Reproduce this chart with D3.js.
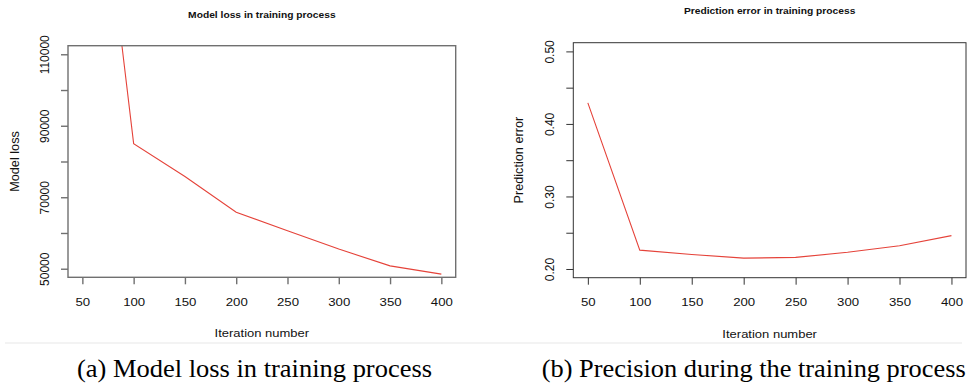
<!DOCTYPE html>
<html>
<head>
<meta charset="utf-8">
<script src="https://cdn.jsdelivr.net/npm/d3@7"></script>
<style>
  html, body { margin: 0; padding: 0; background: #fff; }
  svg { display: block; }
  .sans { font-family: "Liberation Sans", Arial, Helvetica, sans-serif; }
  .serif { font-family: "Liberation Serif", "Times New Roman", Times, serif; }
</style>
</head>
<body>
<svg id="fig" width="967" height="383"></svg>
<script>
// Iterations shared by both panels
const iterations = [50, 100, 150, 200, 250, 300, 350, 400];
const xTicks = [50, 100, 150, 200, 250, 300, 350, 400];

// (a) model loss per iteration
const lossValues = [205000, 85000, 75800, 65800, 60600, 55500, 50800, 48500];
const lossTicks = [50000, 60000, 70000, 80000, 90000, 100000, 110000];
const lossTickLabels = [50000, 70000, 90000, 110000];

// (b) prediction error per iteration
const errorValues = [0.429, 0.226, 0.220, 0.215, 0.216, 0.223, 0.232, 0.246];
const errorTicks = [0.20, 0.25, 0.30, 0.35, 0.40, 0.45, 0.50];
const errorTickLabels = [0.20, 0.30, 0.40, 0.50];

const svg = d3.select("#fig");
const STRETCH = 1.14;   // horizontal stretch of the raster panels

// faint seam below the panels
svg.append("line").attr("x1", 5).attr("x2", 962).attr("y1", 343).attr("y2", 343)
  .attr("stroke", "#f3f3f3").attr("stroke-width", 2);

function panel(cfg) {
  const x = d3.scaleLinear().domain([36, 414]).range([cfg.left, cfg.right]);
  const pad = (cfg.ylim[1] - cfg.ylim[0]) * 0.04;
  const y = d3.scaleLinear().domain([cfg.ylim[0] - pad, cfg.ylim[1] + pad])
    .range([cfg.bottom, cfg.top]);
  const g = svg.append("g").attr("class", "sans");

  // title
  g.append("text")
    .attr("transform", `translate(${(cfg.left + cfg.right) / 2},${cfg.titleY}) scale(${STRETCH},1)`)
    .attr("text-anchor", "middle")
    .attr("font-weight", "bold").attr("font-size", 9).attr("fill", "#111")
    .text(cfg.title);

  // clipped data line
  const clipId = "clip-" + cfg.id;
  svg.append("clipPath").attr("id", clipId).append("rect")
    .attr("x", cfg.left).attr("y", cfg.top)
    .attr("width", cfg.right - cfg.left).attr("height", cfg.bottom - cfg.top);
  const line = d3.line().x((d, i) => x(iterations[i])).y(d => y(d));
  g.append("path").datum(cfg.values)
    .attr("clip-path", `url(#${clipId})`)
    .attr("d", line).attr("fill", "none")
    .attr("stroke", "#e5433a").attr("stroke-width", 1.1);

  // x axis
  const xa = g.append("g").attr("transform", `translate(0,${cfg.bottom})`)
    .call(d3.axisBottom(x).tickValues(xTicks).tickSize(7).tickSizeOuter(0).tickFormat(d3.format("d")));
  xa.attr("font-family", null);
  xa.select(".domain").remove();
  xa.selectAll("line").attr("stroke", cfg.axisColor).attr("stroke-width", cfg.axisWidth);
  xa.selectAll("text").attr("y", 28.5).attr("dy", 0)
    .attr("transform", `scale(${STRETCH},1)`)
    .attr("font-size", 11.6).attr("fill", "#111");

  // y axis with labels parallel to the axis
  const ya = g.append("g").attr("transform", `translate(${cfg.left},0)`)
    .call(d3.axisLeft(y).tickValues(cfg.yTicks).tickSize(7).tickSizeOuter(0)
      .tickFormat(d => cfg.yLabels.some(v => Math.abs(v - d) < 1e-9) ? cfg.fmt(d) : ""));
  ya.attr("font-family", null);
  ya.select(".domain").remove();
  ya.selectAll("line").attr("stroke", cfg.axisColor).attr("stroke-width", cfg.axisWidth);
  ya.selectAll("text").attr("x", 0).attr("y", 0).attr("dy", 0)
    .attr("text-anchor", "middle")
    .attr("transform", `translate(${-cfg.yLabelOff},0) rotate(-90)`)
    .attr("font-size", 12).attr("fill", "#111");

  // plot frame
  g.append("rect").attr("x", cfg.left).attr("y", cfg.top)
    .attr("width", cfg.right - cfg.left).attr("height", cfg.bottom - cfg.top)
    .attr("fill", "none").attr("stroke", cfg.axisColor).attr("stroke-width", cfg.axisWidth);

  // axis titles
  g.append("text")
    .attr("transform", `translate(${(cfg.left + cfg.right) / 2},${cfg.xTitleY}) scale(${STRETCH},1)`)
    .attr("text-anchor", "middle")
    .attr("font-size", 11.4).attr("fill", "#111").text("Iteration number");
  g.append("text")
    .attr("transform", `translate(${cfg.yTitleX},${(cfg.top + cfg.bottom) / 2}) rotate(-90)`)
    .attr("text-anchor", "middle")
    .attr("font-size", 12.7).attr("fill", "#111").text(cfg.yTitle);

  // caption
  svg.append("text").attr("class", "serif")
    .attr("x", cfg.capX).attr("y", 376.7)
    .attr("text-anchor", "middle")
    .attr("font-size", 25).attr("fill", "#000")
    .attr("textLength", cfg.capW).attr("lengthAdjust", "spacingAndGlyphs")
    .text(cfg.caption);
}

panel({
  id: "loss", left: 68, right: 455.7, top: 45.7, bottom: 277.3,
  ylim: [50000, 110000], values: lossValues,
  yTicks: lossTicks, yLabels: lossTickLabels, fmt: d3.format("d"),
  title: "Model loss in training process", titleY: 17.5,
  yTitle: "Model loss", yTitleX: 18.6, yLabelOff: 19.4,
  xTitleY: 336.5, axisColor: "#707070", axisWidth: 1.4,
  caption: "(a) Model loss in training process", capX: 254.5, capW: 355
});

panel({
  id: "err", left: 573.3, right: 966, top: 42.7, bottom: 277.7,
  ylim: [0.2, 0.5], values: errorValues,
  yTicks: errorTicks, yLabels: errorTickLabels, fmt: d3.format(".2f"),
  title: "Prediction error in training process", titleY: 14,
  yTitle: "Prediction error", yTitleX: 522.9, yLabelOff: 19,
  xTitleY: 337.5, axisColor: "#333", axisWidth: 1,
  caption: "(b) Precision during the training process", capX: 753.7, capW: 424
});
</script>
</body>
</html>
